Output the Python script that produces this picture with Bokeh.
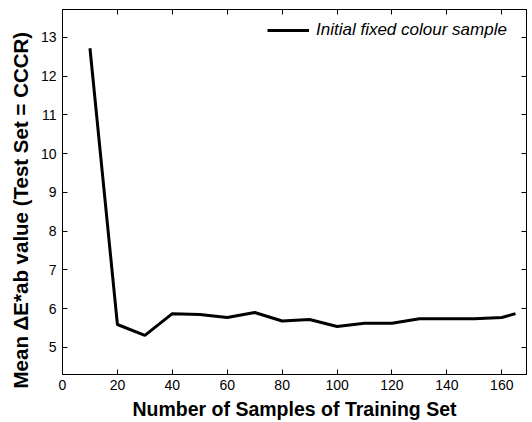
from bokeh.plotting import figure
from bokeh.models import Range1d, LinearAxis, FixedTicker, Legend, LegendItem, Title
from bokeh.embed import file_html
from bokeh.resources import INLINE

# Mean colour difference on the CCCR test set vs. training set size
n_samples = [10, 20, 30, 40, 50, 60, 70, 80, 90, 100, 110, 120, 130, 140, 150, 160, 165]
mean_de = [12.72, 5.59, 5.31, 5.87, 5.85, 5.77, 5.90, 5.68, 5.72, 5.54, 5.62, 5.62,
           5.74, 5.74, 5.74, 5.77, 5.87]
series_name = "Initial fixed colour sample"
x_title = "Number of Samples of Training Set"
y_title = "Mean \u0394E*ab value (Test Set = CCCR)"

x_ticks = [0, 20, 40, 60, 80, 100, 120, 140, 160]
y_ticks = [5, 6, 7, 8, 9, 10, 11, 12, 13]

FONT = "Liberation Sans"

p = figure(width=532, height=422, output_backend="svg", toolbar_location=None,
           x_range=Range1d(0, 169), y_range=Range1d(4.3, 13.72),
           x_axis_location=None, y_axis_location=None,
           min_border_left=62, min_border_right=6, min_border_top=9, min_border_bottom=44)
p.background_fill_color = "white"
p.border_fill_color = "white"
p.outline_line_color = "black"
p.outline_line_width = 1
p.xgrid.visible = False
p.ygrid.visible = False


def style_axis(ax, ticks, show_labels):
    ax.ticker = FixedTicker(ticks=ticks)
    ax.minor_tick_line_color = None
    ax.major_tick_in = 5
    ax.major_tick_out = 0
    ax.axis_line_color = "black"
    ax.major_tick_line_color = "black"
    if show_labels:
        ax.major_label_text_font = FONT
        ax.major_label_text_font_size = "14px"
        ax.major_label_text_color = "black"
        ax.axis_label_text_font = FONT
        ax.axis_label_text_font_size = "19.5px"
        ax.axis_label_text_font_style = "bold"
        ax.axis_label_text_color = "black"
    else:
        # tick marks only on the opposite frame edges
        ax.major_label_text_font_size = "1px"
        ax.major_label_text_color = None
        ax.major_label_standoff = 0


xb = LinearAxis(axis_label=x_title)
style_axis(xb, x_ticks, True)
xb.major_label_standoff = 5
xb.axis_label_standoff = 5
p.add_layout(xb, "below")

yl = LinearAxis()
style_axis(yl, y_ticks, True)
yl.major_label_standoff = 6
p.add_layout(yl, "left")

# y title starts a little below the frame's bottom edge
yt = Title(text=y_title, align="left", offset=-14, standoff=12,
           text_font=FONT, text_font_size="20.5px", text_font_style="bold",
           text_color="black")
p.add_layout(yt, "left")

xt = LinearAxis()
style_axis(xt, x_ticks, False)
p.add_layout(xt, "above")

yr = LinearAxis()
style_axis(yr, y_ticks, False)
p.add_layout(yr, "right")

r = p.line(n_samples, mean_de, line_color="black", line_width=3)

legend = Legend(items=[LegendItem(label=series_name, renderers=[r])],
                location=(205, 334))
legend.border_line_color = None
legend.background_fill_alpha = 0
legend.label_text_font = FONT
legend.label_text_font_size = "17px"
legend.label_text_font_style = "italic"
legend.label_text_color = "black"
legend.glyph_width = 42
legend.label_standoff = 7
legend.padding = 3
legend.margin = 0
p.add_layout(legend)

open("out.html", "w").write(file_html(p, INLINE))
